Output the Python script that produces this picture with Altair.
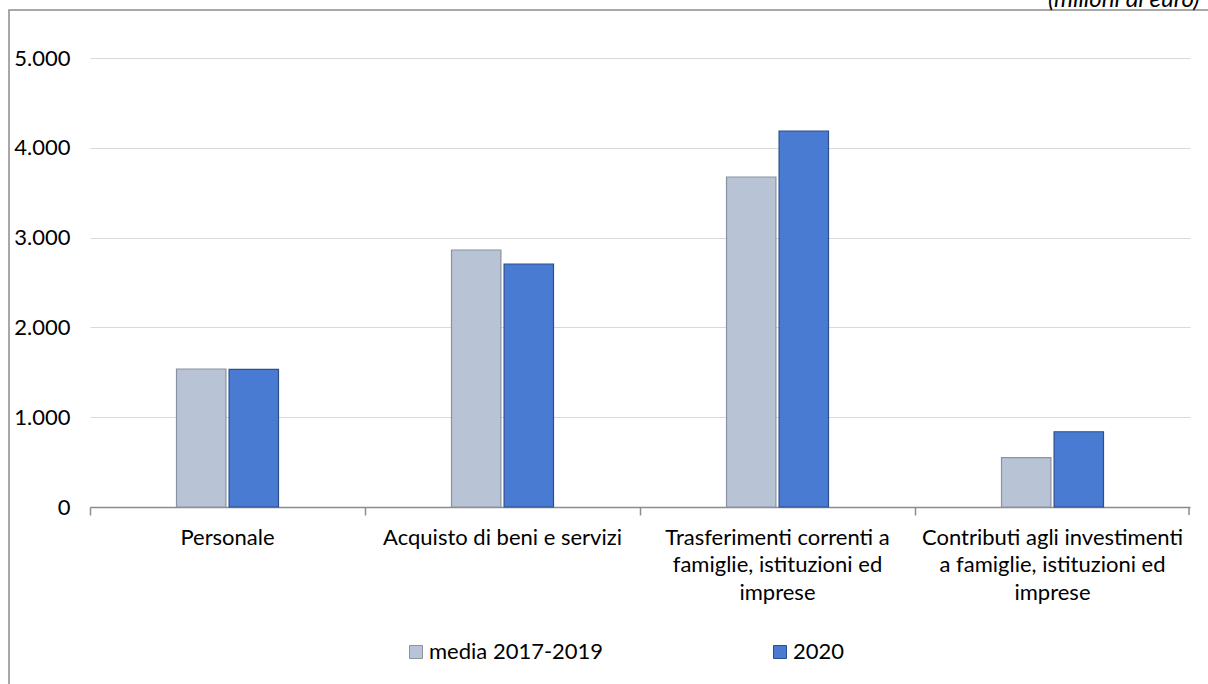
import altair as alt
import pandas as pd

categories = [
    "Personale",
    "Acquisto di beni e servizi",
    "Trasferimenti correnti a famiglie, istituzioni ed imprese",
    "Contributi agli investimenti a famiglie, istituzioni ed imprese",
]
label_lines = [
    ["Personale"],
    ["Acquisto di beni e servizi"],
    ["Trasferimenti correnti a", "famiglie, istituzioni ed", "imprese"],
    ["Contributi agli investimenti", "a famiglie, istituzioni ed", "imprese"],
]
series = ["media 2017-2019", "2020"]
media_2017_2019 = [1537, 2862, 3675, 549]
anno_2020 = [1532, 2706, 4187, 838]
y_ticks = [0, 1000, 2000, 3000, 4000, 5000]
note = "(milioni di euro)"

rows = []
for c, a, b in zip(categories, media_2017_2019, anno_2020):
    rows.append({"categoria": c, "serie": series[0], "valore": a})
    rows.append({"categoria": c, "serie": series[1], "valore": b})
df = pd.DataFrame(rows)

# label expression with multi-line labels
expr = "''"
for c, lines in reversed(list(zip(categories, label_lines))):
    arr = "[" + ",".join("'" + l + "'" for l in lines) + "]"
    expr = f"datum.value == '{c}' ? {arr} : ({expr})"

FONT = "Lato"
FS = 22
AXIS_GREY = "#8c8c8c"

bars = alt.Chart(df).mark_bar(strokeWidth=1.2).encode(
    x=alt.X(
        "categoria:N",
        sort=categories,
        scale=alt.Scale(paddingInner=0, paddingOuter=0),
        axis=alt.Axis(
            title=None,
            labelExpr=expr,
            labelAngle=0,
            labelFontSize=FS,
            labelFont=FONT,
            labelColor="#000000",
            labelLineHeight=27.5,
            labelBaseline="top",
            labelPadding=12,
            labelLimit=400,
            tickSize=8,
            tickColor=AXIS_GREY,
            tickWidth=1.5,
            domainColor=AXIS_GREY,
            domainWidth=1.5,
            bandPosition=0,
            grid=False,
        ),
    ),
    xOffset=alt.XOffset(
        "serie:N",
        sort=series,
        scale=alt.Scale(paddingInner=0.06, paddingOuter=0, range=[86.5, 188.5]),
    ),
    y=alt.Y(
        "valore:Q",
        scale=alt.Scale(domain=[0, 5000], nice=False),
        axis=alt.Axis(
            title=None,
            values=y_ticks,
            labelExpr="replace(format(datum.value, ',d'), ',', '.')",
            labelFontSize=FS,
            labelFont=FONT,
            labelColor="#000000",
            labelPadding=20,
            ticks=False,
            tickSize=0,
            domain=False,
            gridColor="#d9d9d9",
            gridWidth=1,
        ),
    ),
    color=alt.Color(
        "serie:N",
        sort=series,
        scale=alt.Scale(domain=series, range=["#b8c3d5", "#4a7bd2"]),
        legend=alt.Legend(
            title=None,
            orient="none",
            legendX=315,
            legendY=583,
            direction="horizontal",
            symbolType="square",
            symbolSize=169,
            symbolStrokeWidth=1,
            labelFontSize=FS,
            labelFont=FONT,
            labelColor="#000000",
            labelOffset=2,
            labelLimit=400,
            columnPadding=165,
        ),
    ),
    stroke=alt.Stroke(
        "serie:N",
        sort=series,
        scale=alt.Scale(domain=series, range=["#8a939f", "#2d4f8c"]),
        legend=None,
    ),
)

one = pd.DataFrame({"k": [0]})

frame = alt.Chart(one).mark_rect(
    fill=None, stroke="#8c8c8c", strokeWidth=1.5
).encode(
    x=alt.value(-81),
    x2=alt.value(1400),
    y=alt.value(-48),
    y2=alt.value(900),
)

end_tick = alt.Chart(one).mark_rule(color=AXIS_GREY, strokeWidth=1.5).encode(
    x=alt.value(1099),
    y=alt.value(449),
    y2=alt.value(457),
)

note_layer = alt.Chart(pd.DataFrame({"t": [note]})).mark_text(
    align="left", baseline="alphabetic", fontStyle="italic", fontSize=24, font=FONT, color="#000000"
).encode(
    x=alt.value(958),
    y=alt.value(-51),
    text="t:N",
)

chart = alt.layer(frame, bars, end_tick, note_layer).properties(
    width=1100,
    height=449,
    background="#ffffff",
    autosize=alt.AutoSizeParams(type="none"),
    padding={"left": 90, "top": 58, "right": 18, "bottom": 177},
).configure_view(stroke=None)

chart.save("out.html", embed_options={"renderer": "svg", "actions": False})
